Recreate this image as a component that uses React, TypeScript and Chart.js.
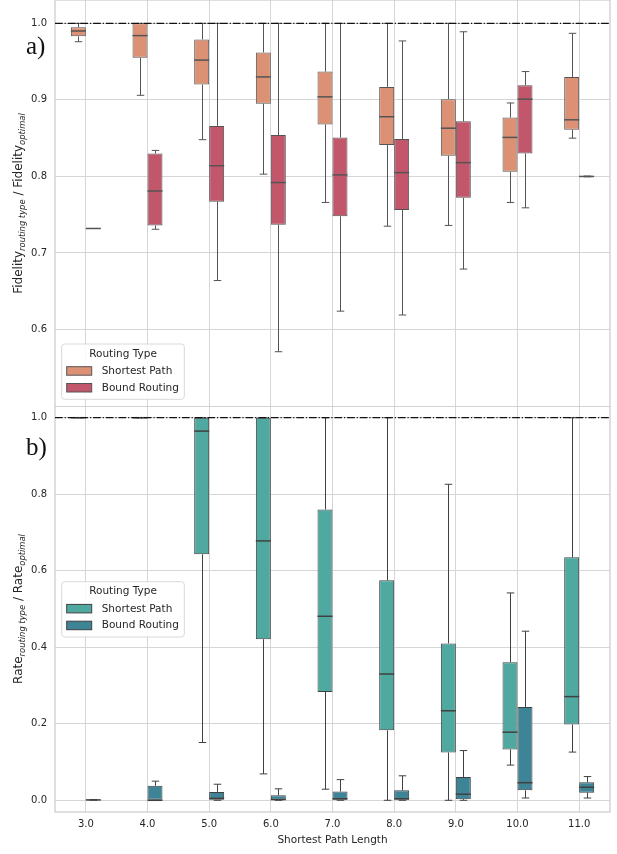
import React, { useEffect, useRef } from 'react';
import { Chart, registerables } from 'chart.js';

Chart.register(...registerables);

const CATEGORIES = ['3.0', '4.0', '5.0', '6.0', '7.0', '8.0', '9.0', '10.0', '11.0'];
const SERIES_NAMES = ['Shortest Path', 'Bound Routing'];
const LEGEND_TITLE = 'Routing Type';
const X_TITLE = 'Shortest Path Length';

// Each entry: [lower whisker, Q1, median, Q3, upper whisker]
const FIDELITY_SHORTEST = [
  [0.976, 0.983, 0.99, 0.995, 1.0],
  [0.906, 0.955, 0.984, 1.0, 1.0],
  [0.848, 0.92, 0.952, 0.979, 1.0],
  [0.803, 0.895, 0.93, 0.962, 1.0],
  [0.766, 0.868, 0.904, 0.937, 1.0],
  [0.735, 0.841, 0.878, 0.917, 1.0],
  [0.736, 0.827, 0.863, 0.901, 1.0],
  [0.766, 0.806, 0.851, 0.877, 0.896],
  [0.85, 0.861, 0.874, 0.93, 0.987],
];
const FIDELITY_BOUND = [
  [0.732, 0.732, 0.732, 0.732, 0.732],
  [0.731, 0.736, 0.781, 0.83, 0.834],
  [0.664, 0.767, 0.814, 0.866, 1.0],
  [0.571, 0.737, 0.792, 0.854, 1.0],
  [0.624, 0.748, 0.802, 0.851, 1.0],
  [0.619, 0.756, 0.805, 0.849, 0.977],
  [0.679, 0.772, 0.818, 0.872, 0.989],
  [0.759, 0.83, 0.901, 0.919, 0.937],
  [0.7995, 0.7995, 0.8, 0.8005, 0.8005],
];
const RATE_SHORTEST = [
  [1.0, 1.0, 1.0, 1.0, 1.0],
  [1.0, 1.0, 1.0, 1.0, 1.0],
  [0.151, 0.643, 0.965, 1.0, 1.0],
  [0.069, 0.421, 0.678, 1.0, 1.0],
  [0.029, 0.283, 0.481, 0.76, 1.0],
  [0.0, 0.183, 0.33, 0.575, 1.0],
  [0.0, 0.125, 0.234, 0.41, 0.826],
  [0.092, 0.133, 0.178, 0.361, 0.542],
  [0.126, 0.198, 0.271, 0.635, 1.0],
];
const RATE_BOUND = [
  [0.001, 0.001, 0.001, 0.001, 0.001],
  [0.0, 0.0, 0.0, 0.038, 0.05],
  [0.0, 0.0, 0.005, 0.022, 0.042],
  [0.0, 0.0, 0.002, 0.013, 0.03],
  [0.0, 0.0, 0.004, 0.023, 0.054],
  [0.0, 0.0, 0.004, 0.026, 0.064],
  [0.0, 0.003, 0.016, 0.061, 0.13],
  [0.006, 0.026, 0.046, 0.244, 0.442],
  [0.006, 0.02, 0.034, 0.047, 0.062],
];
const FIDELITY_TICKS = [0.6, 0.7, 0.8, 0.9, 1.0];
const RATE_TICKS = [0.0, 0.2, 0.4, 0.6, 0.8, 1.0];
const FIDELITY_RANGE = [0.4988, 1.0305];
const RATE_RANGE = [-0.0306, 1.0306];
const REFERENCE_VALUE = 1.0;

const FONT = '"DejaVu Sans", sans-serif';
const TEXT = '#262626';
const GRID = '#d6d6d6';
const SPINE = '#cccccc';

function drawYTitle(ctx: CanvasRenderingContext2D, cx: number, cy: number, main: string, subA: string, subB: string) {
  const mainFont = `12px ${FONT}`;
  const subFont = `italic 8.4px ${FONT}`;
  const parts: [string, string, number][] = [
    [main, mainFont, 0],
    [subA, subFont, 3],
    [' / ', mainFont, 0],
    [main, mainFont, 0],
    [subB, subFont, 3],
  ];
  ctx.save();
  let total = 0;
  const widths = parts.map(([t, f]) => {
    ctx.font = f;
    const w = ctx.measureText(t).width;
    total += w;
    return w;
  });
  ctx.translate(cx, cy);
  ctx.rotate(-Math.PI / 2);
  ctx.fillStyle = TEXT;
  ctx.textBaseline = 'alphabetic';
  ctx.textAlign = 'left';
  let x = -total / 2;
  parts.forEach(([t, f, dy], i) => {
    ctx.font = f;
    ctx.fillText(t, x, dy);
    x += widths[i];
  });
  ctx.restore();
}

function drawLegend(ctx: CanvasRenderingContext2D, left: number, top: number, colors: string[], edge: string) {
  const w = 122.6;
  const h = 55.3;
  ctx.save();
  ctx.beginPath();
  (ctx as any).roundRect(left, top, w, h, 3);
  ctx.fillStyle = 'rgba(255,255,255,0.85)';
  ctx.fill();
  ctx.strokeStyle = '#d9d9d9';
  ctx.lineWidth = 1;
  ctx.stroke();
  ctx.font = `10.5px ${FONT}`;
  ctx.fillStyle = TEXT;
  ctx.textBaseline = 'middle';
  ctx.textAlign = 'center';
  ctx.fillText(LEGEND_TITLE, left + w / 2, top + 10);
  ctx.textAlign = 'left';
  SERIES_NAMES.forEach((name, i) => {
    const py = top + 22.7 + i * 16.8;
    ctx.fillStyle = colors[i];
    ctx.fillRect(left + 5, py, 25, 8.5);
    ctx.strokeStyle = edge;
    ctx.lineWidth = 1;
    ctx.strokeRect(left + 5, py, 25, 8.5);
    ctx.fillStyle = TEXT;
    ctx.fillText(name, left + 40, py + 4.5);
  });
  ctx.restore();
}

const boxPlugin = {
  id: 'boxdeco',
  beforeDatasetsDraw(chart: any, _args: any, opts: any) {
    const { ctx, chartArea: a } = chart;
    ctx.save();
    ctx.strokeStyle = SPINE;
    ctx.lineWidth = 1.25;
    ctx.strokeRect(a.left, a.top, a.right - a.left, a.bottom - a.top);
    ctx.restore();
  },
  afterDatasetsDraw(chart: any, _args: any, opts: any) {
    const { ctx, chartArea: a } = chart;
    const ys = chart.scales.y;
    const line = (x1: number, y1: number, x2: number, y2: number) => {
      ctx.beginPath();
      ctx.moveTo(x1, y1);
      ctx.lineTo(x2, y2);
      ctx.stroke();
    };
    ctx.save();
    ctx.strokeStyle = opts.edge;
    (opts.stats as number[][][]).forEach((series, d) => {
      const meta = chart.getDatasetMeta(d);
      series.forEach((s, i) => {
        const el = meta.data[i];
        if (!el) return;
        const cx = Math.round(el.x) + 0.5;
        const w = el.width;
        const [lo, q1, med, q3, hi] = s;
        const pLo = ys.getPixelForValue(lo);
        const pQ1 = ys.getPixelForValue(q1);
        const pMed = ys.getPixelForValue(med);
        const pQ3 = ys.getPixelForValue(q3);
        const pHi = ys.getPixelForValue(hi);
        ctx.lineWidth = 1;
        line(cx, pQ1, cx, pLo);
        line(cx, pQ3, cx, pHi);
        line(cx - w / 4, pLo, cx + w / 4, pLo);
        line(cx - w / 4, pHi, cx + w / 4, pHi);
        ctx.lineWidth = 1.5;
        line(el.x - w / 2, pMed, el.x + w / 2, pMed);
      });
    });
    // reference line
    const pr = ys.getPixelForValue(REFERENCE_VALUE);
    ctx.strokeStyle = '#111111';
    ctx.lineWidth = 1.2;
    ctx.setLineDash([7.7, 1.9, 1.2, 1.9]);
    line(a.left, pr, a.right, pr);
    ctx.restore();
  },
  afterDraw(chart: any, _args: any, opts: any) {
    const { ctx, chartArea: a } = chart;
    drawLegend(ctx, a.left + 6.7, opts.legendTop, opts.colors, opts.edge);
    ctx.save();
    ctx.font = `25px "Liberation Serif", serif`;
    ctx.fillStyle = '#111111';
    ctx.textAlign = 'left';
    ctx.textBaseline = 'alphabetic';
    ctx.fillText(opts.panelLabel, 26, opts.panelBaseline);
    ctx.restore();
    drawYTitle(ctx, 21.5, (a.top + a.bottom) / 2, opts.yMain, 'routing type', 'optimal');
  },
};

type PanelCfg = {
  shortest: number[][];
  bound: number[][];
  colors: string[];
  edge: string;
  range: number[];
  ticks: number[];
  showX: boolean;
  panelLabel: string;
  panelBaseline: number;
  legendTop: number;
  yMain: string;
};

function makeChart(canvas: HTMLCanvasElement, cfg: PanelCfg) {
  const mk = (data: number[][], i: number) => ({
    label: SERIES_NAMES[i],
    data: data.map((s) => [s[1], s[3]]),
    backgroundColor: cfg.colors[i],
    borderColor: cfg.edge,
    borderWidth: 1,
    borderSkipped: false,
    categoryPercentage: 0.486,
    barPercentage: 1.0,
  });
  return new Chart(canvas, {
    type: 'bar',
    data: {
      labels: CATEGORIES,
      datasets: [mk(cfg.shortest, 0), mk(cfg.bound, 1)] as any,
    },
    options: {
      responsive: false,
      animation: false,
      events: [],
      layout: { padding: { left: 0, right: 7, top: 0, bottom: 0 } },
      plugins: {
        legend: { display: false },
        tooltip: { enabled: false },
        boxdeco: {
          stats: [cfg.shortest, cfg.bound],
          colors: cfg.colors,
          edge: cfg.edge,
          panelLabel: cfg.panelLabel,
          panelBaseline: cfg.panelBaseline,
          legendTop: cfg.legendTop,
          yMain: cfg.yMain,
        },
      } as any,
      scales: {
        x: {
          type: 'category',
          offset: true,
          grid: { offset: false, color: GRID, lineWidth: 1, drawTicks: false },
          border: { display: false },
          ticks: {
            display: cfg.showX,
            padding: 6,
            color: TEXT,
            font: { family: FONT, size: 10 },
            maxRotation: 0,
          },
          title: {
            display: cfg.showX,
            text: X_TITLE,
            color: TEXT,
            font: { family: FONT, size: 10.5 },
            padding: { top: 0, bottom: 7 },
          },
          afterFit: (s: any) => {
            s.height = cfg.showX ? 42 : 0;
            s.paddingLeft = 0;
            s.paddingRight = 0;
          },
        },
        y: {
          type: 'linear',
          min: cfg.range[0],
          max: cfg.range[1],
          afterBuildTicks: (s: any) => {
            s.ticks = cfg.ticks.map((v) => ({ value: v }));
          },
          grid: { color: GRID, lineWidth: 1, drawTicks: false },
          border: { display: false },
          ticks: {
            padding: 8,
            color: TEXT,
            font: { family: FONT, size: 10 },
            callback: (v: any) => Number(v).toFixed(1),
          },
          afterFit: (s: any) => {
            s.width = 55;
            s.paddingTop = 0;
            s.paddingBottom = 0;
          },
        },
      } as any,
    },
    plugins: [boxPlugin as any],
  });
}

export default function App() {
  const topRef = useRef<HTMLCanvasElement>(null);
  const botRef = useRef<HTMLCanvasElement>(null);

  useEffect(() => {
    const charts: Chart[] = [];
    if (topRef.current) {
      charts.push(
        makeChart(topRef.current, {
          shortest: FIDELITY_SHORTEST,
          bound: FIDELITY_BOUND,
          colors: ['#dc9175', '#c2566a'],
          edge: '#545454',
          range: FIDELITY_RANGE,
          ticks: FIDELITY_TICKS,
          showX: false,
          panelLabel: 'a)',
          panelBaseline: 54,
          legendTop: 344,
          yMain: 'Fidelity',
        })
      );
    }
    if (botRef.current) {
      charts.push(
        makeChart(botRef.current, {
          shortest: RATE_SHORTEST,
          bound: RATE_BOUND,
          colors: ['#50a9a1', '#3e8497'],
          edge: '#404040',
          range: RATE_RANGE,
          ticks: RATE_TICKS,
          showX: true,
          panelLabel: 'b)',
          panelBaseline: 49,
          legendTop: 175.7,
          yMain: 'Rate',
        })
      );
    }
    return () => charts.forEach((c) => c.destroy());
  }, []);

  return (
    <div style={{ position: 'absolute', left: 0, top: 0, width: 617, height: 854, background: '#ffffff' }}>
      <canvas
        ref={topRef}
        width={617}
        height={407}
        style={{ position: 'absolute', left: 0, top: 0, width: 617, height: 407 }}
      />
      <canvas
        ref={botRef}
        width={617}
        height={448}
        style={{ position: 'absolute', left: 0, top: 406, width: 617, height: 448 }}
      />
    </div>
  );
}
